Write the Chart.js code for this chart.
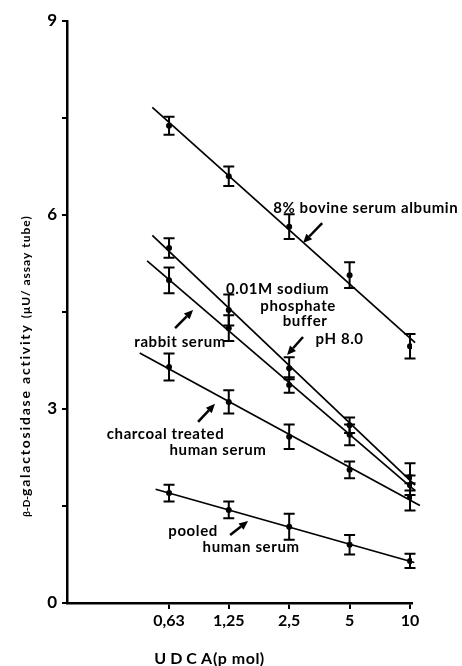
<!DOCTYPE html>
<html lang="en">
<head>
<meta charset="UTF-8">
<title>UDCA - β-D-galactosidase activity</title>
<script src="https://cdn.jsdelivr.net/npm/chart.js"></script>
<style>
  body { margin: 0; background: #fff; }
  #chart { display: block; }
</style>
</head>
<body>
<canvas id="chart" width="462" height="666"></canvas>
<script>
// UDCA doses (pmol) and their tick labels
const doses = [0.63, 1.25, 2.5, 5, 10];
const doseLabels = ['0,63', '1,25', '2,5', '5', '10'];
const yLabelled = [0, 3, 6, 9];

// β-D-galactosidase activity (µU / assay tube): mean and error bar per dose
const bsa = [7.38, 6.60, 5.82, 5.07, 3.97];
const bsaErr = [0.14, 0.15, 0.19, 0.20, 0.19];
const phosphate = [5.49, 4.53, 3.63, 2.75, 1.95];
const phosphateErr = [0.15, 0.24, 0.17, 0.12, 0.21];
const rabbit = [4.99, 4.25, 3.37, 2.60, 1.82];
const rabbitErr = [0.20, 0.20, 0.12, 0.16, 0.15];
const charcoal = [3.65, 3.11, 2.57, 2.06, 1.64];
const charcoalErr = [0.21, 0.18, 0.19, 0.13, 0.21];
const pooled = [1.70, 1.44, 1.18, 0.90, 0.65];
const pooledErr = [0.13, 0.13, 0.20, 0.15, 0.11];

// how far each fitted line is drawn (dose range)
const series = [
  { vals: bsa, err: bsaErr, from: 0.52, to: 10.6 },
  { vals: phosphate, err: phosphateErr, from: 0.52, to: 10.6 },
  { vals: rabbit, err: rabbitErr, from: 0.49, to: 10.6 },
  { vals: charcoal, err: charcoalErr, from: 0.45, to: 11.2 },
  { vals: pooled, err: pooledErr, from: 0.54, to: 10.5 }
];

// text labels, placed in data units (dose, activity)
const notes = [
  { text: '8% bovine serum albumin', x: 2.08, y: 6.11, align: 'left' },
  { text: '0.01M sodium', x: 2.19, y: 4.855 },
  { text: 'phosphate', x: 2.77, y: 4.59 },
  { text: 'buffer', x: 3.00, y: 4.36 },
  { text: 'pH 8.0', x: 4.46, y: 4.08 },
  { text: 'rabbit serum', x: 0.715, y: 4.04 },
  { text: 'charcoal treated', x: 0.605, y: 2.61 },
  { text: 'human serum', x: 1.105, y: 2.37 },
  { text: 'pooled', x: 0.83, y: 1.11 },
  { text: 'human serum', x: 1.615, y: 0.87 }
];
// arrows: tail -> head, data units
const arrows = [
  [3.65, 5.876, 2.93, 5.567],
  [2.93, 4.113, 2.44, 3.835],
  [0.675, 4.25, 0.83, 4.53],
  [0.879, 2.80, 1.067, 3.08],
  [1.27, 1.05, 1.56, 1.268]
];

// least squares line on log2(dose)
function fitLine(vals, from, to) {
  const xs = doses.map(Math.log2);
  const n = xs.length;
  const mx = xs.reduce((a, b) => a + b) / n;
  const my = vals.reduce((a, b) => a + b) / n;
  let sxy = 0, sxx = 0;
  xs.forEach((x, i) => { sxy += (x - mx) * (vals[i] - my); sxx += (x - mx) ** 2; });
  const b = sxy / sxx, a = my - b * mx;
  return [from, to].map(d => ({ x: d, y: a + b * Math.log2(d) }));
}

const datasets = [];
series.forEach(s => {
  datasets.push({
    data: s.vals.map((v, i) => ({ x: doses[i], y: v })),
    showLine: false,
    pointRadius: 3,
    pointBackgroundColor: '#000',
    pointBorderWidth: 0
  });
  datasets.push({
    data: fitLine(s.vals, s.from, s.to),
    showLine: true,
    pointRadius: 0,
    borderColor: '#000',
    borderWidth: 1.7,
    clip: false
  });
});

const overlay = {
  id: 'overlay',
  afterDatasetsDraw(chart) {
    const { ctx, scales: { x, y } } = chart;
    ctx.save();
    ctx.strokeStyle = '#000';
    ctx.lineWidth = 2;
    series.forEach(s => {
      s.vals.forEach((v, i) => {
        const px = x.getPixelForValue(doses[i]);
        const top = y.getPixelForValue(v + s.err[i]);
        const bot = y.getPixelForValue(v - s.err[i]);
        ctx.beginPath();
        ctx.moveTo(px, top); ctx.lineTo(px, bot);
        ctx.moveTo(px - 5.5, top); ctx.lineTo(px + 5.5, top);
        ctx.moveTo(px - 5.5, bot); ctx.lineTo(px + 5.5, bot);
        ctx.stroke();
      });
    });
    ctx.restore();
  },
  afterDraw(chart) {
    const { ctx, scales: { x, y } } = chart;
    ctx.save();
    ctx.fillStyle = '#000';
    ctx.strokeStyle = '#000';

    // labels
    ctx.font = '700 15px Lato';
    ctx.letterSpacing = '0.6px';
    ctx.textBaseline = 'middle';
    notes.forEach(n => {
      ctx.textAlign = n.align || 'center';
      ctx.fillText(n.text, x.getPixelForValue(n.x), y.getPixelForValue(n.y));
    });

    // arrows
    arrows.forEach(([x0, y0, x1, y1]) => {
      const ax = x.getPixelForValue(x0), ay = y.getPixelForValue(y0);
      const bx = x.getPixelForValue(x1), by = y.getPixelForValue(y1);
      const ang = Math.atan2(by - ay, bx - ax);
      const len = 9, w = 4;
      ctx.lineWidth = 2.5;
      ctx.beginPath();
      ctx.moveTo(ax, ay);
      ctx.lineTo(bx - Math.cos(ang) * len, by - Math.sin(ang) * len);
      ctx.stroke();
      ctx.beginPath();
      ctx.moveTo(bx, by);
      ctx.lineTo(bx - Math.cos(ang) * len - Math.sin(ang) * w, by - Math.sin(ang) * len + Math.cos(ang) * w);
      ctx.lineTo(bx - Math.cos(ang) * len + Math.sin(ang) * w, by - Math.sin(ang) * len - Math.cos(ang) * w);
      ctx.closePath();
      ctx.fill();
    });

    // x axis title
    ctx.textBaseline = 'alphabetic';
    ctx.textAlign = 'left';
    ctx.font = '700 16px Lato';
    ctx.letterSpacing = '4px';
    const t1 = 'UDCA';
    const w1 = ctx.measureText(t1).width;
    ctx.letterSpacing = '0.5px';
    const t2 = '(p mol)';
    const w2 = ctx.measureText(t2).width;
    let sx = 211 - (w1 + w2) / 2;
    ctx.letterSpacing = '4px';
    ctx.fillText(t1, sx, 664);
    ctx.letterSpacing = '0.5px';
    ctx.fillText(t2, sx + w1 - 3, 664);

    // y axis title
    const parts = [
      { t: 'β-D-', font: '700 10px Lato', ls: '0px' },
      { t: 'galactosidase activity ', font: '700 14px Lato', ls: '1.8px' },
      { t: '(μU/ assay tube)', font: '700 12px Lato', ls: '1px' }
    ];
    let total = 0;
    parts.forEach(p => { ctx.font = p.font; ctx.letterSpacing = p.ls; p.w = ctx.measureText(p.t).width; total += p.w; });
    ctx.translate(30, 366);
    ctx.rotate(-Math.PI / 2);
    let off = -total / 2;
    parts.forEach(p => {
      ctx.font = p.font; ctx.letterSpacing = p.ls;
      ctx.fillText(p.t, off, 0);
      off += p.w;
    });
    ctx.restore();
  }
};

new Chart(document.getElementById('chart'), {
  type: 'scatter',
  data: { datasets },
  options: {
    responsive: false,
    animation: false,
    events: [],
    layout: { padding: { top: 21, right: 50, left: 0, bottom: 0 } },
    plugins: { legend: { display: false }, tooltip: { enabled: false } },
    scales: {
      x: {
        type: 'logarithmic',
        min: 0.1954,
        max: 10.23,
        afterBuildTicks: s => { s.ticks = doses.map(v => ({ value: v })); },
        afterFit: s => { s.height = 63; },
        border: { display: true, color: '#000', width: 2.5 },
        grid: { drawOnChartArea: false, drawTicks: true, tickLength: 6, color: '#000', lineWidth: 2 },
        ticks: {
          color: '#000',
          font: { family: 'Lato', size: 16, weight: '700' },
          padding: 2,
          maxRotation: 0,
          autoSkip: false,
          callback: (v, i) => doseLabels[i]
        }
      },
      y: {
        min: 0,
        max: 9,
        afterFit: s => { s.width = 67; },
        border: { display: true, color: '#000', width: 2.5 },
        grid: { drawOnChartArea: false, drawTicks: true, tickLength: 5, color: '#000', lineWidth: 2 },
        ticks: {
          stepSize: 1.5,
          color: '#000',
          font: { family: 'Lato', size: 17, weight: '700' },
          padding: 5,
          callback: v => (yLabelled.includes(v) ? String(v) : '')
        }
      }
    }
  },
  plugins: [overlay]
});
</script>
</body>
</html>
